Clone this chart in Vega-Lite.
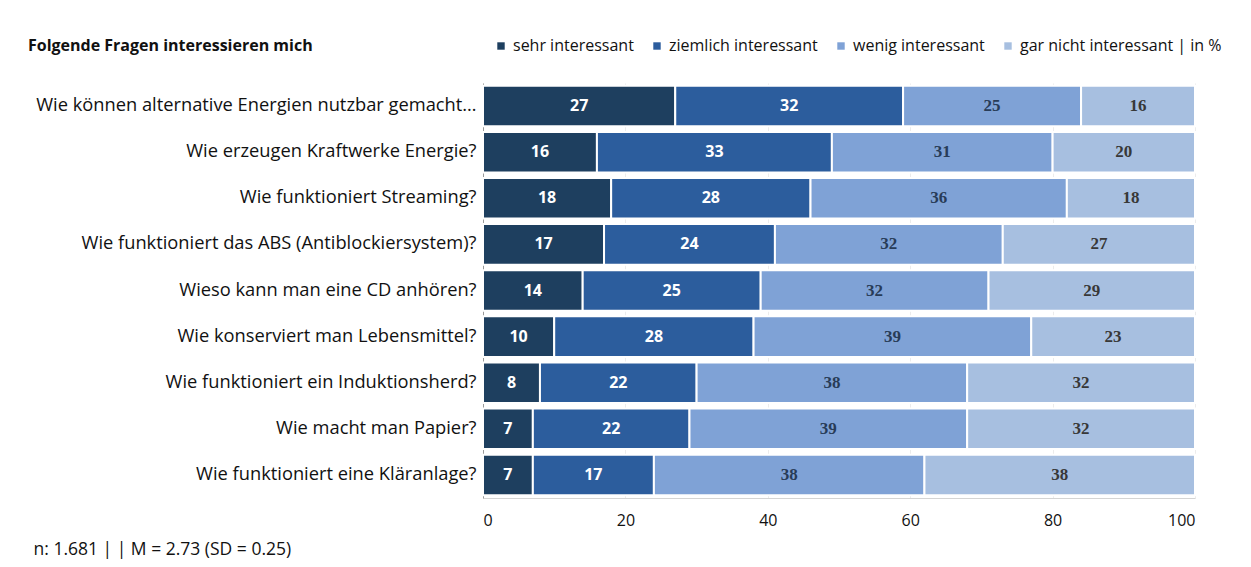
{
  "$schema": "https://vega.github.io/schema/vega-lite/v6.json",
  "autosize": "none",
  "width": 712,
  "height": 415,
  "padding": {"left": 483, "top": 83, "right": 56, "bottom": 69},
  "background": "white",
  "title": {
    "text": "Folgende Fragen interessieren mich",
    "anchor": "start",
    "frame": "group",
    "dx": -455,
    "offset": -29,
    "baseline": "alphabetic",
    "font": "Open Sans",
    "fontSize": 16,
    "fontWeight": "bold",
    "color": "#111"
  },
  "data": {
    "values": [
      {"q": "Wie können alternative Energien nutzbar gemacht…", "cat": "sehr interessant", "k": 1, "v": 27},
      {"q": "Wie können alternative Energien nutzbar gemacht…", "cat": "ziemlich interessant", "k": 2, "v": 32},
      {"q": "Wie können alternative Energien nutzbar gemacht…", "cat": "wenig interessant", "k": 3, "v": 25},
      {"q": "Wie können alternative Energien nutzbar gemacht…", "cat": "gar nicht interessant | in %", "k": 4, "v": 16},
      {"q": "Wie erzeugen Kraftwerke Energie?", "cat": "sehr interessant", "k": 1, "v": 16},
      {"q": "Wie erzeugen Kraftwerke Energie?", "cat": "ziemlich interessant", "k": 2, "v": 33},
      {"q": "Wie erzeugen Kraftwerke Energie?", "cat": "wenig interessant", "k": 3, "v": 31},
      {"q": "Wie erzeugen Kraftwerke Energie?", "cat": "gar nicht interessant | in %", "k": 4, "v": 20},
      {"q": "Wie funktioniert Streaming?", "cat": "sehr interessant", "k": 1, "v": 18},
      {"q": "Wie funktioniert Streaming?", "cat": "ziemlich interessant", "k": 2, "v": 28},
      {"q": "Wie funktioniert Streaming?", "cat": "wenig interessant", "k": 3, "v": 36},
      {"q": "Wie funktioniert Streaming?", "cat": "gar nicht interessant | in %", "k": 4, "v": 18},
      {"q": "Wie funktioniert das ABS (Antiblockiersystem)?", "cat": "sehr interessant", "k": 1, "v": 17},
      {"q": "Wie funktioniert das ABS (Antiblockiersystem)?", "cat": "ziemlich interessant", "k": 2, "v": 24},
      {"q": "Wie funktioniert das ABS (Antiblockiersystem)?", "cat": "wenig interessant", "k": 3, "v": 32},
      {"q": "Wie funktioniert das ABS (Antiblockiersystem)?", "cat": "gar nicht interessant | in %", "k": 4, "v": 27},
      {"q": "Wieso kann man eine CD anhören?", "cat": "sehr interessant", "k": 1, "v": 14},
      {"q": "Wieso kann man eine CD anhören?", "cat": "ziemlich interessant", "k": 2, "v": 25},
      {"q": "Wieso kann man eine CD anhören?", "cat": "wenig interessant", "k": 3, "v": 32},
      {"q": "Wieso kann man eine CD anhören?", "cat": "gar nicht interessant | in %", "k": 4, "v": 29},
      {"q": "Wie konserviert man Lebensmittel?", "cat": "sehr interessant", "k": 1, "v": 10},
      {"q": "Wie konserviert man Lebensmittel?", "cat": "ziemlich interessant", "k": 2, "v": 28},
      {"q": "Wie konserviert man Lebensmittel?", "cat": "wenig interessant", "k": 3, "v": 39},
      {"q": "Wie konserviert man Lebensmittel?", "cat": "gar nicht interessant | in %", "k": 4, "v": 23},
      {"q": "Wie funktioniert ein Induktionsherd?", "cat": "sehr interessant", "k": 1, "v": 8},
      {"q": "Wie funktioniert ein Induktionsherd?", "cat": "ziemlich interessant", "k": 2, "v": 22},
      {"q": "Wie funktioniert ein Induktionsherd?", "cat": "wenig interessant", "k": 3, "v": 38},
      {"q": "Wie funktioniert ein Induktionsherd?", "cat": "gar nicht interessant | in %", "k": 4, "v": 32},
      {"q": "Wie macht man Papier?", "cat": "sehr interessant", "k": 1, "v": 7},
      {"q": "Wie macht man Papier?", "cat": "ziemlich interessant", "k": 2, "v": 22},
      {"q": "Wie macht man Papier?", "cat": "wenig interessant", "k": 3, "v": 39},
      {"q": "Wie macht man Papier?", "cat": "gar nicht interessant | in %", "k": 4, "v": 32},
      {"q": "Wie funktioniert eine Kläranlage?", "cat": "sehr interessant", "k": 1, "v": 7},
      {"q": "Wie funktioniert eine Kläranlage?", "cat": "ziemlich interessant", "k": 2, "v": 17},
      {"q": "Wie funktioniert eine Kläranlage?", "cat": "wenig interessant", "k": 3, "v": 38},
      {"q": "Wie funktioniert eine Kläranlage?", "cat": "gar nicht interessant | in %", "k": 4, "v": 38}
    ]
  },
  "transform": [
    {"stack": "v", "groupby": ["q"], "sort": [{"field": "k", "order": "ascending"}], "as": ["v0", "v1"]},
    {"calculate": "(datum.v0 + datum.v1) / 2", "as": "mid"}
  ],
  "encoding": {
    "y": {
      "field": "q",
      "type": "nominal",
      "sort": null,
      "scale": {"paddingInner": 0.12, "paddingOuter": 0.06},
      "axis": {
        "title": null,
        "ticks": false,
        "domain": true,
        "domainColor": "#9a9a9a",
        "labelFont": "Open Sans",
        "labelFontSize": 18.3,
        "labelColor": "#111",
        "labelPadding": 7,
        "labelLimit": 470
      }
    }
  },
  "layer": [
    {
      "mark": {"type": "bar", "stroke": "white", "strokeWidth": 2},
      "encoding": {
        "x": {
          "field": "v0",
          "type": "quantitative",
          "scale": {"domain": [0, 100], "nice": false},
          "axis": {
            "values": [0, 20, 40, 60, 80, 100],
            "ticks": false,
            "grid": true,
            "gridColor": "#ececec",
            "domainColor": "#d4d4d4",
            "labelFont": "Open Sans",
            "labelFontSize": 16,
            "labelColor": "#111",
            "labelPadding": 14,
            "title": "n: 1.681 | | M = 2.73 (SD = 0.25)",
            "titleX": -450,
            "titleY": 56,
            "titleAlign": "left",
            "titleAnchor": "start",
            "titleBaseline": "alphabetic",
            "titleFont": "Open Sans",
            "titleFontSize": 17.5,
            "titleFontWeight": "normal",
            "titleColor": "#111"
          }
        },
        "x2": {"field": "v1"},
        "color": {
          "field": "cat",
          "type": "nominal",
          "scale": {
            "domain": ["sehr interessant", "ziemlich interessant", "wenig interessant", "gar nicht interessant | in %"],
            "range": ["#1e3f5f", "#2c5d9d", "#7fa2d6", "#a7bfe0"]
          },
          "legend": {
            "title": null,
            "orient": "none",
            "direction": "horizontal",
            "legendX": 10,
            "legendY": -45,
            "symbolType": "square",
            "symbolSize": 55,
            "symbolStrokeWidth": 0,
            "labelFont": "Open Sans",
            "labelFontSize": 16,
            "labelColor": "#111",
            "labelOffset": 4,
            "columnPadding": 15,
            "labelLimit": 400
          }
        }
      }
    },
    {
      "transform": [{"filter": "datum.k <= 2"}],
      "mark": {"type": "text", "font": "Open Sans", "fontSize": 16, "fontWeight": "bold", "color": "white"},
      "encoding": {
        "x": {"field": "mid", "type": "quantitative"},
        "text": {"field": "v", "type": "quantitative"}
      }
    },
    {
      "transform": [{"filter": "datum.k >= 3"}],
      "mark": {"type": "text", "font": "Liberation Serif", "fontSize": 17, "fontWeight": "bold"},
      "encoding": {
        "x": {"field": "mid", "type": "quantitative"},
        "text": {"field": "v", "type": "quantitative"},
        "color": {"condition": {"test": "datum.k == 3", "value": "#283c58"}, "value": "#383838"}
      }
    }
  ],
  "config": {"view": {"stroke": null}}
}
